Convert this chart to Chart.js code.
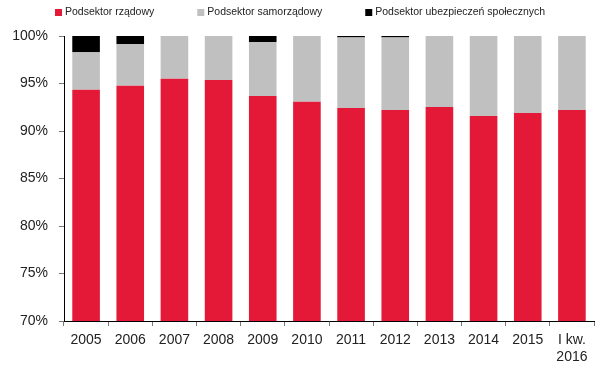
<!DOCTYPE html>
<html>
<head>
<meta charset="utf-8">
<script src="https://cdn.jsdelivr.net/npm/chart.js@4"></script>
<style>
  html, body { margin: 0; padding: 0; background: #fff; }
  #wrap { width: 597px; height: 369px; }
</style>
</head>
<body>
<div id="wrap"><canvas id="sectorChart" width="597" height="369"></canvas></div>
<script>
const years = ['2005', '2006', '2007', '2008', '2009', '2010', '2011', '2012', '2013', '2014', '2015', ['I kw.', '2016']];
const rzadowy = [94.35, 94.77, 95.51, 95.37, 93.68, 93.08, 92.42, 92.21, 92.53, 91.58, 91.89, 92.21];
const samorzadowy = [3.93, 4.39, 4.49, 4.63, 5.69, 6.92, 7.43, 7.64, 7.47, 8.42, 8.11, 7.79];
const ubezpieczen = [1.72, 0.84, 0, 0, 0.63, 0, 0.15, 0.15, 0, 0, 0, 0];

const textColor = '#222';
const fontFamily = '"Liberation Sans", Arial, sans-serif';

// legend drawn by hand: fixed spacing like the original
const topLegend = {
  id: 'topLegend',
  afterDraw(chart) {
    const c = chart.ctx;
    c.save();
    c.font = '10.5px ' + fontFamily;
    c.textBaseline = 'middle';
    let x = 55;
    const y = 12.5;
    chart.data.datasets.forEach(ds => {
      c.fillStyle = ds.backgroundColor;
      c.fillRect(x, y - 3.5, 7, 7);
      x += 10;
      c.fillStyle = textColor;
      c.fillText(ds.label, x, y);
      x += c.measureText(ds.label).width + 43;
    });
    c.restore();
  }
};

const ctx = document.getElementById('sectorChart').getContext('2d');
const chart = new Chart(ctx, {
  type: 'bar',
  data: {
    labels: years,
    datasets: [
      { label: 'Podsektor rządowy', data: rzadowy, backgroundColor: '#E31937' },
      { label: 'Podsektor samorządowy', data: samorzadowy, backgroundColor: '#C0C0C0' },
      { label: 'Podsektor ubezpieczeń społecznych', data: ubezpieczen, backgroundColor: '#000000' }
    ]
  },
  options: {
    responsive: false,
    animation: false,
    layout: { padding: { top: 36, right: 3, left: 0, bottom: 0 } },
    datasets: {
      bar: { categoryPercentage: 1, barPercentage: 0.625, borderWidth: 0 }
    },
    plugins: {
      legend: { display: false },
      tooltip: { enabled: false }
    },
    scales: {
      x: {
        stacked: true,
        grid: { drawOnChartArea: false, drawTicks: true, tickLength: 5, color: '#777' },
        border: { color: '#000', width: 1 },
        ticks: { color: textColor, font: { family: fontFamily, size: 14 }, padding: 6, maxRotation: 0, autoSkip: false },
        afterFit: s => { s.height = 48; }
      },
      y: {
        stacked: true,
        min: 70,
        max: 100,
        grid: { drawOnChartArea: false, drawTicks: true, tickLength: 5, color: '#777' },
        border: { color: '#000', width: 1 },
        ticks: {
          stepSize: 5,
          color: textColor,
          font: { family: fontFamily, size: 14 },
          padding: 11,
          callback: v => v + '%'
        },
        afterFit: s => { s.width = 64; }
      }
    }
  },
  plugins: [topLegend]
});
</script>
</body>
</html>
